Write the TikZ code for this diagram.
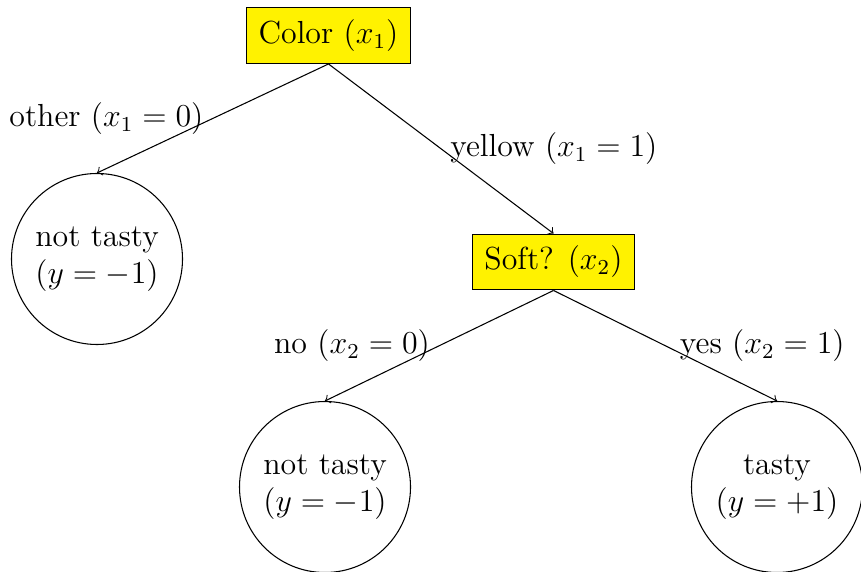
\documentclass[tikz,border=0pt]{standalone}
\tikzset{
  dec/.style={draw, fill=yellow, rectangle, font=\large, inner sep=4.5pt},
  leaf/.style={draw, circle, minimum size=64.3pt, align=center, font=\large, inner sep=0pt},
  lbl/.style={font=\large},
  edge/.style={->}
}
\begin{document}
\begin{tikzpicture}[x=0.376pt, y=-0.376pt]
\useasboundingbox (0,0) rectangle (861,572);
% decision nodes
\node[dec] (color) at (328.5,35.5) {Color ($x_1$)};
\node[dec] (soft) at (553.5,262) {Soft? ($x_2$)};
% leaves
\node[leaf] (l1) at (97,259) {not tasty\\($y=-1$)};
\node[leaf] (l2) at (325,487) {not tasty\\($y=-1$)};
\node[leaf] (l3) at (777,487) {tasty\\($y=+1$)};
% branches
\draw[edge] (color.south) -- node[lbl, midway, left] {other ($x_1=0$)} (l1.north);
\draw[edge] (color.south) -- node[lbl, midway, right] {yellow ($x_1=1$)} (soft.north);
\draw[edge] (soft.south) -- node[lbl, midway, left] {no ($x_2=0$)} (l2.north);
\draw[edge] (soft.south) -- node[lbl, midway, right, xshift=2pt] {yes ($x_2=1$)} (l3.north);
\end{tikzpicture}
\end{document}
